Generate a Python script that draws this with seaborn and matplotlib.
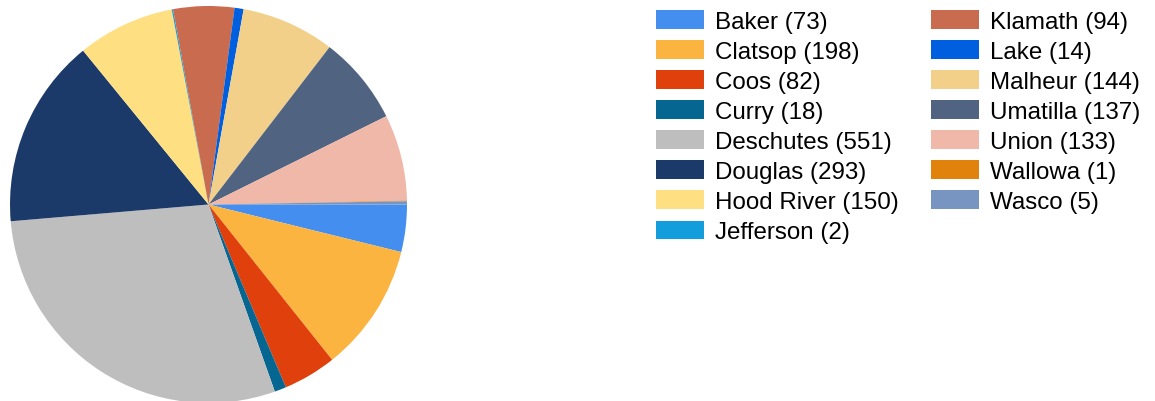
import matplotlib
matplotlib.use("Agg")
import matplotlib.pyplot as plt
import seaborn as sns

counties = ["Baker", "Clatsop", "Coos", "Curry", "Deschutes", "Douglas", "Hood River",
            "Jefferson", "Klamath", "Lake", "Malheur", "Umatilla", "Union", "Wallowa", "Wasco"]
counts = [73, 198, 82, 18, 551, 293, 150, 2, 94, 14, 144, 137, 133, 1, 5]
colors = ["#448EF0", "#FBB440", "#DF400C", "#046691", "#BEBEBE", "#1C3A69", "#FEE083",
          "#129EDD", "#C96B4E", "#005FDF", "#F2D089", "#506381", "#F0B8A8", "#E0820B", "#7894C0"]

sns.set_style("white")
plt.rcParams['font.family'] = ['Liberation Sans', 'DejaVu Sans']
plt.rcParams['text.color'] = 'black'

W, H = 1155, 402
fig = plt.figure(figsize=(W / 100, H / 100), dpi=100)

# pie axes placed in pixel terms: center (208.5, 205.5 from top), radius 198.5
cx, cy, r = 208.5, H - 205.5, 198.5
ax = fig.add_axes([(cx - r) / W, (cy - r) / H, 2 * r / W, 2 * r / H])
wedges, _ = ax.pie(counts, colors=colors, startangle=0, counterclock=False,
                   wedgeprops=dict(linewidth=0))
ax.set_xlim(-1, 1)
ax.set_ylim(-1, 1)
ax.set_aspect('equal')
ax.axis('off')

labels = [f"{c} ({n})" for c, n in zip(counties, counts)]
fig.legend(wedges, labels, ncol=2, loc='upper left', bbox_to_anchor=(649 / W, 1 - 3.5 / H),
           frameon=False, fontsize=17.4, handlelength=1.98, handleheight=0.83,
           handletextpad=0.45, labelspacing=0.30, columnspacing=1.35, borderaxespad=0,
           borderpad=0.3)

plt.savefig("out.png", dpi=100)
plt.close()
